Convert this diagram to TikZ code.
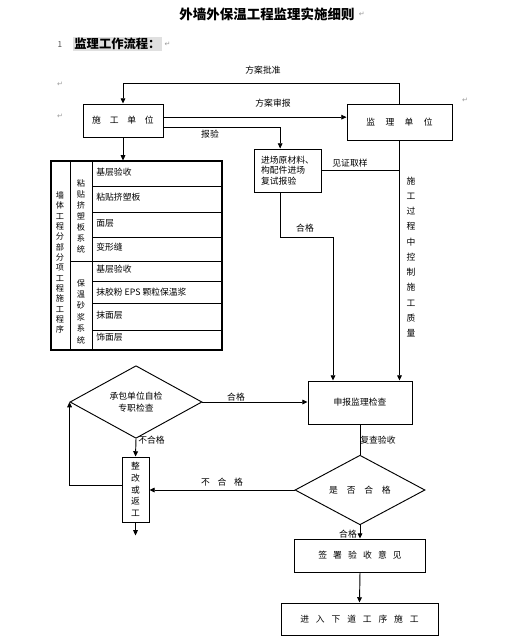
\documentclass[tikz,border=0pt]{standalone}
\usepackage{fontspec}
\setmainfont{Noto Sans CJK SC}
\newfontfamily\symfont{DejaVu Sans}
\usetikzlibrary{arrows.meta,shapes.geometric}

\tikzset{
  box/.style={draw, line width=0.8pt, inner sep=0pt, font=\fontsize{7.5}{9}\selectfont},
  dia/.style={draw, diamond, line width=0.8pt, inner sep=0pt, align=center,
    font=\fontsize{7.5}{10}\selectfont},
  lbl/.style={font=\fontsize{7.5}{9}\selectfont, inner sep=1pt},
  wide/.style={font=\fontsize{7.5}{9}\selectfont\addfontfeature{LetterSpace=#1}},
  vtxt/.style={align=center, inner sep=0pt},
  ln/.style={line width=0.8pt},
  arr/.style={ln, -{Triangle[length=4.5pt,width=4pt]}},
  retmark/.style={font=\symfont\fontsize{6}{6}\selectfont, text=black!40, inner sep=0pt}
}

\begin{document}
\begin{tikzpicture}[x=0.03cm, y=-0.03cm]
  \useasboundingbox (0,0) rectangle (520,639);

  % title and heading
  \node[font=\bfseries\fontsize{11.5}{12}\selectfont] (title) at (267,14) {外墙外保温工程监理实施细则};
  \node[retmark, anchor=west] at (title.east) {↵};
  \node[font=\fontsize{7}{8}\selectfont, text=black!70] (num) at (60,45) {1};
  \node[fill=black!12, font=\bfseries\fontsize{10.5}{12}\selectfont, inner sep=1pt, anchor=west] (head) at (73,44) {监理工作流程：};
  \node[retmark, anchor=west] at ([xshift=2pt]head.east) {↵};
  \node[retmark] at (60,84) {↵};
  \node[retmark] at (60,116) {↵};
  \node[retmark] at (465,100) {↵};

  % units
  \node[box, wide=100, minimum width=2.4cm, minimum height=0.99cm] (sg) at (123,120.5) {施工单位};
  \node[box, wide=118, minimum width=3.15cm, minimum height=1.08cm] (jl) at (399.5,122) {监理单位};
  \node[box, minimum width=2.01cm, minimum height=1.29cm, align=left] (jc) at (287.5,170.5)
        {进场原材料、\\构配件进场\\复试报验};

  % table of sub-items
  \node[draw, line width=0.9pt, minimum width=5.13cm, minimum height=5.67cm] (tbl) at (136.5,255.5) {};
  \draw[ln] (70,161) -- (70,350) (92,161) -- (92,350) (70,261) -- (222,261);
  \foreach \y in {186,212,237,281,303,330}
    \draw[ln] (92,\y) -- (222,\y);
  \foreach \y/\t in {172/基层验收, 197/粘贴挤塑板, 223/面层, 247/变形缝,
                     269/基层验收, 292/抹胶粉 EPS 颗粒保温浆, 315/抹面层, 337/饰面层}
    \node[lbl, anchor=west] at (95,\y) {\t};
  \node[vtxt, font=\fontsize{7}{8.8}\selectfont] (c1) at (60,262.5)
        {墙\\体\\工\\程\\分\\部\\分\\项\\工\\程\\施\\工\\程\\序};
  \node[vtxt, font=\fontsize{7}{9.4}\selectfont] (c2a) at (81,216.5)
        {粘\\贴\\挤\\塑\\板\\系\\统};
  \node[vtxt, font=\fontsize{7}{9.7}\selectfont] (c2b) at (81,311.5)
        {保\\温\\砂\\浆\\系\\统};

  % checking
  \node[box, minimum width=3.12cm, minimum height=1.29cm] (sb) at (360,402.5) {申报监理检查\\[8pt]};
  \node[dia, minimum width=3.96cm, minimum height=1.86cm] (d1) at (136,402) {承包单位自检\\专职检查};
  \node[box, minimum width=0.81cm, minimum height=1.95cm, align=center,
        font=\fontsize{7.5}{10}\selectfont] (zg) at (135.5,489.5) {整\\改\\或\\返\\工};
  \node[dia, wide=100, minimum width=3.9cm, minimum height=1.95cm] (d2) at (360,490) {是否合格};
  \node[box, wide=70, minimum width=3.93cm, minimum height=0.99cm] (ss) at (360,555.5) {签署验收意见};
  \node[box, wide=78, minimum width=4.71cm, minimum height=0.96cm] (jr) at (359.5,619) {进入下道工序施工};

  % connectors
  \draw[arr] (jl.north) -- ++(0,-20) -| (sg.north);
  \node[lbl] at (263,70) {方案批准};
  \draw[arr] ([yshift=0.1cm]sg.east) -- ([yshift=0.1cm]sg.east -| jl.west);
  \node[lbl] at (273,103) {方案审报};
  \draw[arr] ([yshift=-0.2cm]sg.east) -| ([xshift=-0.22cm]jc.north);
  \node[lbl] at (210,134) {报验};
  \draw[arr] (sg.south) -- (sg.south |- tbl.north);
  \draw[ln] (jc.east) -- (jc.east -| jl.south);
  \node[lbl] at (350,163) {见证取样};
  \draw[arr] (jl.south) -- (jl.south |- sb.north);
  \node[vtxt, font=\fontsize{7.5}{13}\selectfont] (ctrl) at (411,257)
        {施\\工\\过\\程\\中\\控\\制\\施\\工\\质\\量};
  \draw[arr] ([xshift=-0.22cm]jc.south) -- ++(0,45) -| ([xshift=-0.81cm]sb.north);
  \node[lbl] at (305,228) {合格};
  \draw[arr] (d1.east) -- (d1.east -| sb.west);
  \node[lbl] at (236,397) {合格};
  \draw[arr] (d1.south) -- (zg.north);
  \node[lbl, anchor=west] at (137,440) {不合格};
  \draw[arr] ([yshift=0.12cm]zg.west) -| (d1.west);
  \draw[arr] (zg.south) -- ++(0,13);
  \draw[ln] (sb.south) -- (d2.north);
  \node[lbl, anchor=west] at (359,440) {复查验收};
  \draw[arr] (d2.west) -- (d2.west -| zg.east);
  \node[lbl, wide=88] at (222,482) {不合格};
  \draw[arr] (d2.south) -- (ss.north);
  \node[lbl] at (348,534) {合格};
  \draw[arr] (ss.south) -- (jr.north);
\end{tikzpicture}
\end{document}
